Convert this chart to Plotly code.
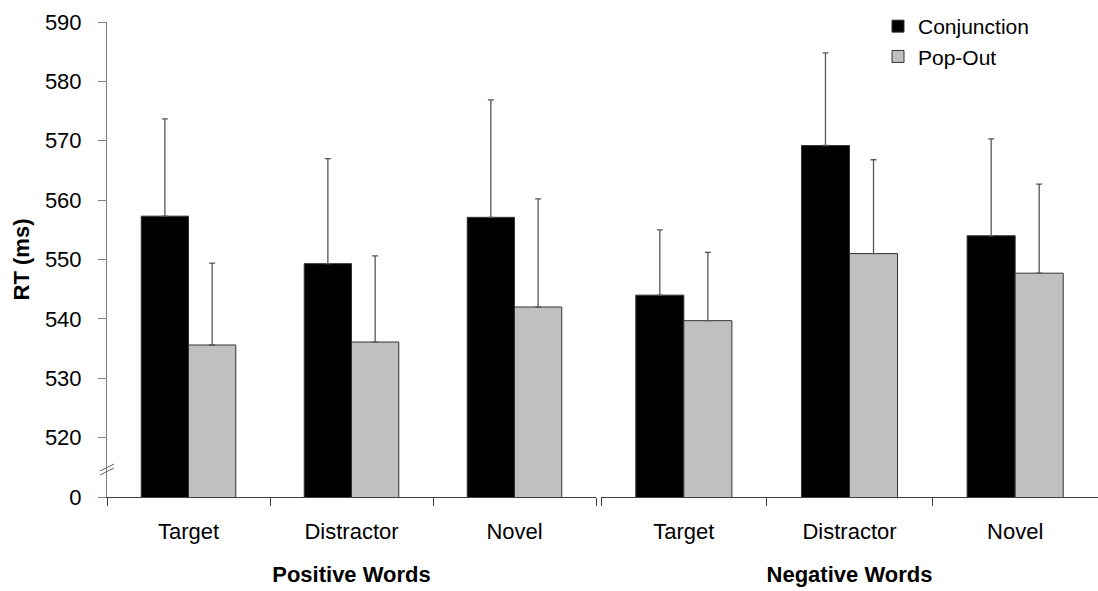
import plotly.graph_objects as go

# Reaction times (ms) per word type, split by search condition
word_types = ["Target", "Distractor", "Novel"]
groups = ["Positive Words", "Negative Words"]

conj_pos = [557.3, 549.3, 557.1]
conj_pos_err = [16.4, 17.7, 19.8]
pop_pos = [535.6, 536.1, 542.0]
pop_pos_err = [13.8, 14.5, 18.2]

conj_neg = [544.0, 569.2, 554.0]
conj_neg_err = [11.0, 15.6, 16.3]
pop_neg = [539.7, 551.0, 547.7]
pop_neg_err = [11.5, 15.8, 15.0]

y_ticks = [510, 520, 530, 540, 550, 560, 570, 580, 590]
y_ticktext = ["0", "520", "530", "540", "550", "560", "570", "580", "590"]

FONT = "Liberation Sans, Arial, sans-serif"
W, H = 1098, 591
ML, MR, MT, MB = 107, 0, 22, 94
PW = W - ML - MR
PH = H - MT - MB

x_pos = [0.5, 1.5, 2.5]

err_style = dict(type="data", symmetric=False, arrayminus=[0, 0, 0],
                 color="#555555", thickness=1.3, width=3)
line_style = dict(color="#333333", width=1)

fig = go.Figure()
fig.add_trace(go.Bar(x=x_pos, y=conj_pos, name="Conjunction", xaxis="x", yaxis="y",
                     marker=dict(color="#000000", line=line_style),
                     error_y=dict(array=conj_pos_err, **err_style)))
fig.add_trace(go.Bar(x=x_pos, y=pop_pos, name="Pop-Out", xaxis="x", yaxis="y",
                     marker=dict(color="#c0c0c0", line=line_style),
                     error_y=dict(array=pop_pos_err, **err_style)))
fig.add_trace(go.Bar(x=x_pos, y=conj_neg, name="Conjunction", xaxis="x2", yaxis="y",
                     marker=dict(color="#000000", line=line_style),
                     error_y=dict(array=conj_neg_err, **err_style),
                     showlegend=False))
fig.add_trace(go.Bar(x=x_pos, y=pop_neg, name="Pop-Out", xaxis="x2", yaxis="y",
                     marker=dict(color="#c0c0c0", line=line_style),
                     error_y=dict(array=pop_neg_err, **err_style),
                     showlegend=False))

gap_px = 5
d1_end = (489) / PW
d2_start = (489 + gap_px) / PW

xaxis_common = dict(
    range=[0, 3], tickvals=x_pos, ticktext=word_types, ticks="",
    showline=True, linecolor="#404040", linewidth=1,
    showgrid=False, zeroline=False, fixedrange=True,
    tickfont=dict(family=FONT, size=22, color="#000000"),
    ticklabelstandoff=15,
    minor=dict(tickvals=[0, 1, 2, 3], ticks="outside", ticklen=8,
               tickcolor="#404040", tickwidth=1, showgrid=False),
)

fig.update_layout(
    width=W, height=H,
    margin=dict(l=ML, r=MR, t=MT, b=MB, pad=0),
    paper_bgcolor="white", plot_bgcolor="white",
    barmode="group", bargap=0.42, bargroupgap=0,
    font=dict(family=FONT, size=22, color="#000000"),
    xaxis=dict(domain=[0, d1_end], anchor="y",
               title=dict(text="<b>Positive Words</b>", standoff=23,
                          font=dict(family=FONT, size=22)),
               **xaxis_common),
    xaxis2=dict(domain=[d2_start, 1], anchor="y",
                title=dict(text="<b>Negative Words</b>", standoff=23,
                           font=dict(family=FONT, size=22)),
                **xaxis_common),
    yaxis=dict(range=[510, 590], tickvals=y_ticks, ticktext=y_ticktext,
               ticks="outside", ticklen=8, tickcolor="#808080", tickwidth=1,
               showline=True, linecolor="#808080", linewidth=1,
               showgrid=False, zeroline=False, fixedrange=True,
               tickfont=dict(family=FONT, size=22, color="#000000"),
               ticklabelstandoff=12,
               title=dict(text="<b>RT (ms)</b>", standoff=9,
                          font=dict(family=FONT, size=22))),
    legend=dict(x=(878 - ML) / PW, xanchor="left", y=1 + 16 / PH, yanchor="top",
                bgcolor="rgba(0,0,0,0)", borderwidth=0,
                font=dict(family=FONT, size=21, color="#000000"),
                tracegroupgap=0, itemwidth=30),
    showlegend=True,
)

# axis break mark on the value axis
def px_to_paper(px, py):
    return (px - ML) / PW, (H - MB - py) / PH

for dy in (0, 4):
    x0, y0 = px_to_paper(100, 471 + dy)
    x1, y1 = px_to_paper(114, 464 + dy)
    fig.add_shape(type="line", xref="paper", yref="paper", x0=x0, y0=y0, x1=x1, y1=y1,
                  line=dict(color="#606060", width=1))

fig.write_html("out.html")
